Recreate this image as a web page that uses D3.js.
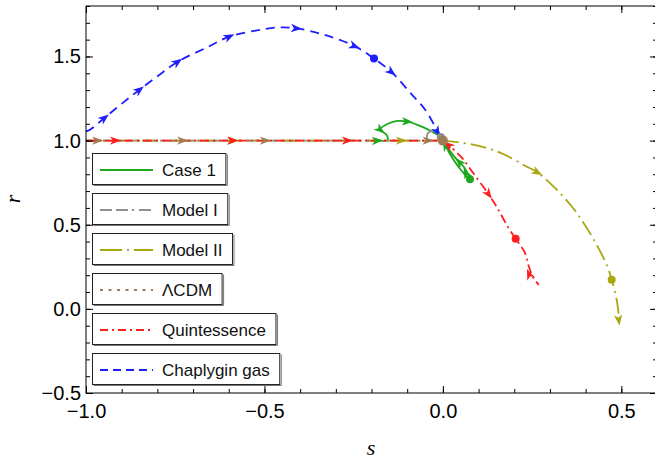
<!DOCTYPE html>
<html><head><meta charset="utf-8">
<script src="https://cdn.jsdelivr.net/npm/d3@7"></script>
<style>body{margin:0;background:#fff}</style>
</head><body>
<svg id="c" width="655" height="461"></svg>
<script>
// ---- data ----
const sDomain = [-1.0, 0.6];
const rDomain = [-0.5, 1.8];
const sMajorTicks = [-1.0, -0.5, 0.0, 0.5];
const rMajorTicks = [-0.5, 0.0, 0.5, 1.0, 1.5];
const sMinorTicks = d3.range(-10, 7).map(d => d / 10);
const rMinorTicks = d3.range(-5, 19).map(d => d / 10);
const legendLabels = ["Case 1", "Model I", "Model II", "ΛCDM", "Quintessence", "Chaplygin gas"];
const seriesColors = ["#1ea81e", "#8f8f8f", "#aaa611", "#a07a52", "#ff1e1e", "#1e1eff"];

// trajectories as [s, r]: straight part along r = 1, then the curved part
const case1Line = [];
const case1Curve = [[-0.19,1.0],[-0.155,1.004],[-0.158,1.035],[-0.176,1.065],[-0.154,1.1],[-0.126,1.117],[-0.098,1.113],[-0.059,1.083],[-0.031,1.054],[-0.008,1.024],[0,1],[0.02,0.92],[0.045,0.84],[0.076,0.77],[0.06,0.84],[0.034,0.9],[0.008,0.975],[0,1]];
const modelILine = [[-1,1],[-0.045,1]];
const modelICurve = [[-0.045,1],[-0.042,1.045],[-0.02,1.058],[-0.005,1.03],[0,1]];
const modelIILine = [[-1,1],[0,1]];
const modelIICurve = [[0,1],[0.084,0.976],[0.16,0.929],[0.23,0.851],[0.266,0.81],[0.319,0.708],[0.364,0.601],[0.392,0.518],[0.426,0.399],[0.459,0.262],[0.473,0.173],[0.487,0.054],[0.496,-0.095]];
const lcdmLine = [[-1,1],[0,1]];
const lcdmCurve = [];
const quintLine = [[-1,1],[0,1]];
const quintCurve = [[0,1],[0.014,0.976],[0.053,0.899],[0.084,0.81],[0.129,0.679],[0.154,0.595],[0.182,0.488],[0.204,0.417],[0.23,0.333],[0.241,0.25],[0.255,0.18],[0.269,0.143]];
const chapLine = [];
const chapCurve = [[-1,1.055],[-0.989,1.065],[-0.947,1.137],[-0.896,1.226],[-0.849,1.304],[-0.793,1.393],[-0.742,1.47],[-0.661,1.554],[-0.597,1.619],[-0.521,1.655],[-0.457,1.673],[-0.409,1.667],[-0.336,1.631],[-0.246,1.56],[-0.193,1.488],[-0.143,1.405],[-0.092,1.286],[-0.05,1.185],[-0.017,1.065],[0,1]];

// arrow positions [s, r, direction(1 forward / -1 backward)]
const case1Arrows = [[-0.182,1.0,1],[-0.174,1.062,-1],[-0.098,1.113,1],[0.006,0.975,-1],[0.045,0.875,1],[0.064,0.81,1]];
const modelIArrows = [];
const modelIIArrows = [[-0.585,1,1],[-0.115,1,1],[0.266,0.81,1],[0.493,-0.07,1]];
const lcdmArrows = [[-0.966,1,1],[-0.728,1,1],[-0.496,1,1],[-0.04,1,1]];
const quintArrows = [[-0.916,1,1],[-0.588,1,1],[-0.266,1,1],[0.014,0.976,-1],[0.129,0.679,1],[0.241,0.21,-1]];
const chapArrows = [[-0.947,1.137,1],[-0.849,1.304,1],[-0.742,1.47,1],[-0.597,1.619,1],[-0.409,1.667,1],[-0.246,1.56,1],[-0.143,1.405,1],[-0.015,1.05,1]];

// marked points
const case1Dot = [0.076, 0.77];
const modelIDot = [-0.006, 1.022];
const modelIIDot = [0.473, 0.173];
const lcdmDot = [0.0, 1.0];
const quintDot = [0.204, 0.417];
const chapDot = [-0.193, 1.488];

const dashes = [null, "13,4,13,4,2,4", "16,5,2,5", "3,5.5", "9,4,2,4", "9,6"];
const legendDashes = [null, "12,4,12,4,2,5", "22,5,2,5", "3,5.5", "8,4,2,4", "8,5"];

// ---- drawing ----
const svg = d3.select("#c");
const L = 86, R = 657, T = 6, B = 393;
const x = d3.scaleLinear(sDomain, [L, R]);
const y = d3.scaleLinear(rDomain, [B, T]);

const series = [
  {line: case1Line, curve: case1Curve, arrows: case1Arrows, dot: case1Dot},
  {line: modelILine, curve: modelICurve, arrows: modelIArrows, dot: modelIDot},
  {line: modelIILine, curve: modelIICurve, arrows: modelIIArrows, dot: modelIIDot},
  {line: lcdmLine, curve: lcdmCurve, arrows: lcdmArrows, dot: lcdmDot},
  {line: quintLine, curve: quintCurve, arrows: quintArrows, dot: quintDot},
  {line: chapLine, curve: chapCurve, arrows: chapArrows, dot: chapDot}
];

const plot = svg.append("g");
const straight = d3.line().x(d => x(d[0])).y(d => y(d[1]));
const smooth = d3.line().x(d => x(d[0])).y(d => y(d[1])).curve(d3.curveCatmullRom.alpha(0.5));

series.forEach((s, i) => {
  const d = (s.line.length ? straight(s.line) : "") + (s.curve.length ? smooth(s.curve) : "");
  plot.append("path").attr("d", d).attr("fill", "none")
    .attr("stroke", seriesColors[i]).attr("stroke-width", 1.8)
    .attr("stroke-dasharray", dashes[i]);
});

function arrowAngle(pts, a) {
  const px = x(a[0]), py = y(a[1]);
  let best = 1e9, ang = 0;
  for (let k = 0; k < pts.length - 1; k++) {
    const x1 = x(pts[k][0]), y1 = y(pts[k][1]), x2 = x(pts[k+1][0]), y2 = y(pts[k+1][1]);
    const dx = x2 - x1, dy = y2 - y1, l2 = dx*dx + dy*dy || 1;
    let t = ((px - x1)*dx + (py - y1)*dy) / l2; t = Math.max(0, Math.min(1, t));
    const qx = x1 + t*dx, qy = y1 + t*dy, d = (px-qx)**2 + (py-qy)**2;
    if (d < best) { best = d; ang = Math.atan2(dy, dx); }
  }
  return ang * 180 / Math.PI + (a[2] < 0 ? 180 : 0);
}

series.forEach((s, i) => {
  const pts = s.line.concat(s.curve);
  s.arrows.forEach(a => {
    plot.append("path").attr("d", "M5,0 L-6,-4.2 L-3,0 L-6,4.2 Z")
      .attr("fill", seriesColors[i])
      .attr("transform", `translate(${x(a[0])},${y(a[1])}) rotate(${arrowAngle(pts, a)})`);
  });
});
series.forEach((s, i) => {
  plot.append("circle").attr("cx", x(s.dot[0])).attr("cy", y(s.dot[1]))
    .attr("r", i === 3 ? 5 : 4).attr("fill", seriesColors[i]);
});

// frame & ticks
const fr = svg.append("g");
fr.append("rect").attr("x", L).attr("y", T).attr("width", R - L).attr("height", B - T)
  .attr("fill", "none").attr("stroke", "#000").attr("stroke-width", 1);

function ticks(axisFn, scale, vals, size, tx, ty, labels) {
  const a = axisFn(scale).tickValues(vals).tickSizeInner(-size).tickSizeOuter(0);
  if (!labels) a.tickFormat(""); else a.tickFormat(d3.format(".1f"));
  const g = fr.append("g").attr("transform", `translate(${tx},${ty})`).call(a);
  g.select(".domain").remove();
  g.selectAll("line").attr("stroke", "#000");
  return g;
}
ticks(d3.axisBottom, x, sMinorTicks, 4, 0, B, false);
ticks(d3.axisTop, x, sMinorTicks, 4, 0, T, false);
ticks(d3.axisLeft, y, rMinorTicks, 4, L, 0, false);
ticks(d3.axisRight, y, rMinorTicks, 4, R, 0, false);
ticks(d3.axisTop, x, sMajorTicks, 7, 0, T, false);
ticks(d3.axisRight, y, rMajorTicks, 7, R, 0, false);
const bx = ticks(d3.axisBottom, x, sMajorTicks, 7, 0, B, true);
bx.call(g => g.selectAll("text").attr("y", 11));
const ly = ticks(d3.axisLeft, y, rMajorTicks, 7, L, 0, true);
ly.call(g => g.selectAll("text").attr("x", -5));
fr.selectAll("text").attr("font-family", "Liberation Sans, Arial, sans-serif")
  .attr("font-size", 20).attr("fill", "#000");

// axis titles
svg.append("text").attr("x", 371).attr("y", 455).attr("text-anchor", "middle")
  .attr("font-family", "Liberation Serif, Times New Roman, serif").attr("font-style", "italic")
  .attr("font-size", 22).text("s");
svg.append("text").attr("transform", "translate(20,199) rotate(-90)").attr("text-anchor", "middle")
  .attr("font-family", "Liberation Serif, Times New Roman, serif").attr("font-style", "italic")
  .attr("font-size", 22).text("r");

// legend
const lg = svg.append("g");
legendLabels.forEach((lab, i) => {
  const top = 153.5 + 40 * i;
  const g = lg.append("g");
  const rect = g.append("rect").attr("x", 92.5).attr("y", top).attr("height", 31)
    .attr("fill", "#fff").attr("stroke", "#222").attr("stroke-width", 1);
  g.append("line").attr("x1", 100).attr("x2", 153).attr("y1", top + 16.5).attr("y2", top + 16.5)
    .attr("stroke", seriesColors[i]).attr("stroke-width", 2)
    .attr("stroke-dasharray", legendDashes[i]);
  const t = g.append("text").attr("x", 162).attr("y", top + 22)
    .attr("font-family", "Liberation Sans, Arial, sans-serif").attr("font-size", 17)
    .attr("fill", "#111").text(lab);
  const w = t.node().getComputedTextLength();
  rect.attr("width", 162 + w + 10 - 92.5);
  g.append("path").attr("d", `M${162 + w + 11.5},${top + 1} V${top + 32} H${93.5}`)
    .attr("fill", "none").attr("stroke", "#777").attr("stroke-width", 1);
});
</script>
</body></html>
